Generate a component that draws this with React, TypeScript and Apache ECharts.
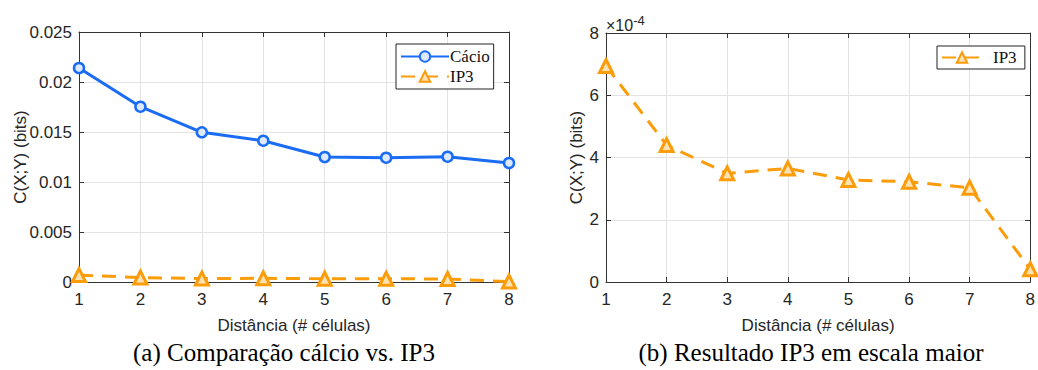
import React, { useEffect, useRef } from "react";
import * as echarts from "echarts";

const distances = ["1", "2", "3", "4", "5", "6", "7", "8"];
const calcio = [0.0214, 0.01753, 0.01497, 0.01413, 0.0125, 0.01243, 0.01253, 0.0119];
const ip3 = [0.000694, 0.00044, 0.000349, 0.000365, 0.000328, 0.000322, 0.000303, 0.000041];
const leftTicks = { min: 0, max: 0.025, interval: 0.005 };
const rightTicks = { min: 0, max: 0.0008, interval: 0.0002 };
const captionA = "(a) Comparação cálcio vs. IP3";
const captionB = "(b) Resultado IP3 em escala maior";
const xName = "Distância (# células)";
const yName = "C(X;Y) (bits)";

const BLUE = "#1a6cf5";
const ORANGE = "#fb9c0a";
const AXIS = "#333333";
const GRIDC = "#e3e3e3";
const SANS = "'Liberation Sans', Arial, sans-serif";
const SERIF = "'Liberation Serif', 'Times New Roman', serif";

export default function App() {
  const ref = useRef<HTMLDivElement>(null);
  useEffect(() => {
    if (!ref.current) return;
    const chart = echarts.init(ref.current, undefined, { renderer: "svg" });
    const baseX = (gridIndex: number, top: boolean) => ({
      type: "value",
      gridIndex,
      min: 1,
      max: 8,
      interval: 1,
      position: top ? "top" : "bottom",
      axisLine: { show: true, onZero: false, lineStyle: { color: AXIS, width: 1 } },
      axisTick: { show: true, inside: true, length: 5, lineStyle: { color: AXIS } },
      axisLabel: {
        show: !top,
        color: "#262626",
        fontFamily: SANS,
        fontSize: 17,
        margin: 9,
        formatter: (v: number) => distances[v - 1] ?? "",
      },
      splitLine: { show: !top, lineStyle: { color: GRIDC } },
      name: top ? "" : xName,
      nameLocation: "middle",
      nameGap: 35,
      nameTextStyle: { color: "#262626", fontFamily: SANS, fontSize: 17 },
    });
    const baseY = (gridIndex: number, right: boolean, t: any, fmt: (v: number) => string) => ({
      type: "value",
      gridIndex,
      min: t.min,
      max: t.max,
      interval: t.interval,
      position: right ? "right" : "left",
      axisLine: { show: true, lineStyle: { color: AXIS, width: 1 } },
      axisTick: { show: true, inside: true, length: 5, lineStyle: { color: AXIS } },
      axisLabel: {
        show: !right,
        color: "#262626",
        fontFamily: SANS,
        fontSize: 17,
        margin: 7,
        formatter: fmt,
      },
      splitLine: { show: !right, lineStyle: { color: GRIDC } },
      name: right ? "" : yName,
      nameLocation: "middle",
      nameGap: gridIndex === 0 ? 50 : 21,
      nameMoveOverlap: false,
      nameRotate: 90,
      nameTextStyle: { color: "#262626", fontFamily: SANS, fontSize: 17 },
    });
    const leftFmt = (v: number) => String(Math.round(v * 1000) / 1000);
    const rightFmt = (v: number) => String(Math.round(v * 1e4));
    const ipSeries = (xi: number, yi: number, name: string) => ({
      type: "line",
      name,
      xAxisIndex: xi,
      yAxisIndex: yi,
      data: ip3.map((v, i) => [i + 1, v]),
      symbol: "triangle",
      symbolSize: 13,
      color: ORANGE,
      lineStyle: { color: ORANGE, width: 3, type: [14, 9] },
      itemStyle: { color: "#ffe2b3", borderColor: ORANGE, borderWidth: 3 },
      clip: false,
      z: 3,
    });
    chart.setOption({
      animation: false,
      backgroundColor: "#ffffff",
      grid: [
        { left: 79, top: 32, width: 430, height: 250, show: false },
        { left: 606, top: 33, width: 427, height: 249, show: false },
      ],
      xAxis: [baseX(0, false), baseX(0, true), baseX(1, false), baseX(1, true)],
      yAxis: [
        baseY(0, false, leftTicks, leftFmt),
        baseY(0, true, leftTicks, leftFmt),
        baseY(1, false, rightTicks, rightFmt),
        baseY(1, true, rightTicks, rightFmt),
      ],
      legend: [
        {
          left: 396,
          top: 44,
          orient: "vertical",
          itemWidth: 48,
          itemHeight: 13,
          itemGap: 3,
          padding: [4, 4, 4, 4],
          borderColor: "#222",
          borderWidth: 1,
          borderRadius: 0,
          backgroundColor: "#fff",
          data: ["Cácio", "IP3"],
          textStyle: { fontFamily: SERIF, fontSize: 17, color: "#111", padding: [0, 0, 0, -4] },
        },
        {
          left: 937,
          top: 46,
          itemWidth: 40,
          itemHeight: 13,
          padding: [3, 4, 3, 4],
          borderColor: "#222",
          borderWidth: 1,
          borderRadius: 0,
          backgroundColor: "#fff",
          data: ["IP3 "],
          textStyle: { fontFamily: SERIF, fontSize: 17, color: "#111", padding: [0, 0, 0, 6] },
        },
      ],
      series: [
        {
          type: "line",
          name: "Cácio",
          xAxisIndex: 0,
          yAxisIndex: 0,
          data: calcio.map((v, i) => [i + 1, v]),
          symbol: "circle",
          symbolSize: 10,
          color: BLUE,
          lineStyle: { color: BLUE, width: 3 },
          itemStyle: { color: "#dce9ff", borderColor: BLUE, borderWidth: 2.5 },
          clip: false,
          z: 3,
        },
        ipSeries(0, 0, "IP3"),
        ipSeries(2, 2, "IP3 "),
      ],
      graphic: [
        {
          type: "text",
          x: 284,
          y: 340,
          style: { text: captionA, font: `25px ${SERIF}`, fill: "#000", textAlign: "center" },
        },
        {
          type: "text",
          x: 811,
          y: 340,
          style: { text: captionB, font: `25px ${SERIF}`, fill: "#000", textAlign: "center" },
        },
        {
          type: "text",
          x: 606,
          y: 14,
          style: {
            text: "×10{s|-4}",
            fontSize: 16,
            fontFamily: SANS,
            fill: "#262626",
            rich: { s: { fontSize: 13, verticalAlign: "top", padding: [0, 0, 9, 0], fontFamily: SANS, fill: "#262626" } } as any,
          } as any,
        },
      ],
    });
    return () => chart.dispose();
  }, []);
  return (
    <div
      ref={ref}
      style={{ position: "fixed", left: 0, top: 0, width: 1038, height: 370 }}
    />
  );
}
